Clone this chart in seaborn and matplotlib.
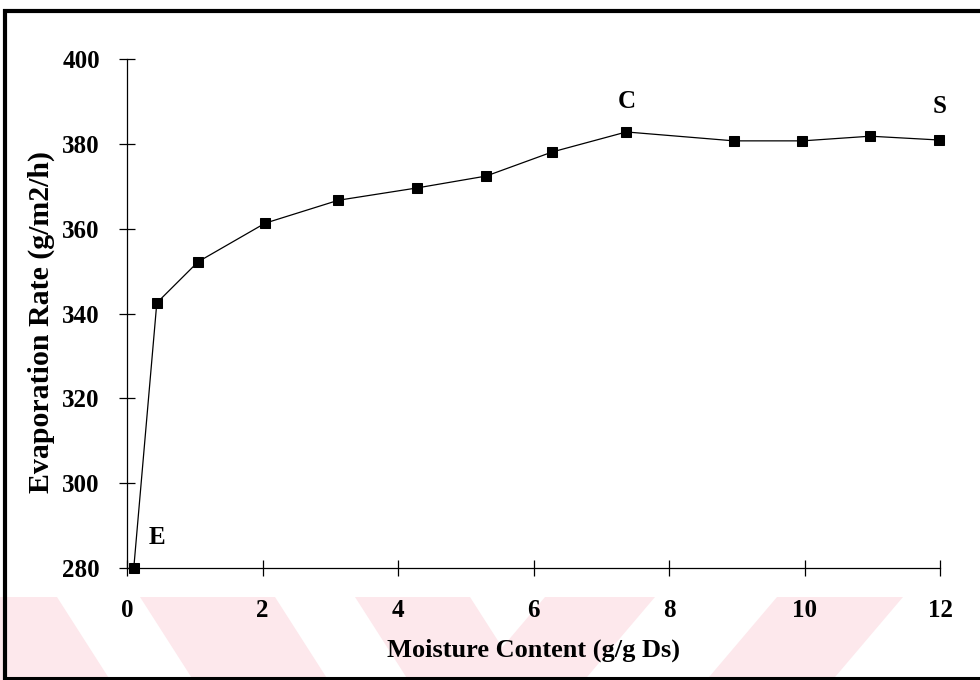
import matplotlib
matplotlib.use("Agg")
import matplotlib.pyplot as plt
import seaborn as sns
import pandas as pd
from matplotlib.patches import Polygon
from matplotlib.lines import Line2D

# Drying curve: evaporation rate versus moisture content
moisture = [0.10, 0.44, 1.05, 2.04, 3.12, 4.28, 5.30, 6.28, 7.37, 8.96, 9.97, 10.97, 11.99]
evaporation = [280.0, 342.5, 352.2, 361.3, 366.7, 369.6, 372.4, 378.1, 382.8, 380.7, 380.7, 381.8, 380.9]
x_ticks = [0, 2, 4, 6, 8, 10, 12]
y_ticks = [280, 300, 320, 340, 360, 380, 400]
point_names = ["E", "C", "S"]
point_index = [0, 8, 12]

sns.set_style("ticks")
plt.rcParams["font.family"] = ["Liberation Serif", "DejaVu Serif"]
plt.rcParams["font.weight"] = "bold"
plt.rcParams["text.color"] = "black"
plt.rcParams["axes.labelcolor"] = "black"

W, H = 980, 680
fig = plt.figure(figsize=(W / 100, H / 100), dpi=100)
fig.patch.set_facecolor("white")


def fx(px):
    return px / W


def fy(py):
    return 1 - py / H


# faint pink chevron band along the bottom edge
band_top, band_bot = 597, 683
pink = "#fde8ec"
left_stripes = [(-90, 57), (140, 275), (355, 470)]
right_stripes = [(545, 655), (777, 903)]
for stripes, d in ((left_stripes, 55), (right_stripes, -73)):
    for a, b in stripes:
        pts = [(a, band_top), (b, band_top), (b + d, band_bot), (a + d, band_bot)]
        fig.patches.append(Polygon([(fx(x), fy(y)) for x, y in pts], closed=True,
                                   transform=fig.transFigure, facecolor=pink,
                                   edgecolor="none", zorder=-5))

# heavy outer frame
frame_kw = dict(transform=fig.transFigure, color="black", solid_capstyle="butt", zorder=10)
fig.lines.append(Line2D([fx(5), fx(5)], [fy(9), fy(680)], linewidth=3.0, **frame_kw))
fig.lines.append(Line2D([fx(3), fx(980)], [fy(11), fy(11)], linewidth=3.0, **frame_kw))
fig.lines.append(Line2D([fx(3), fx(980)], [fy(678), fy(678)], linewidth=2.2, **frame_kw))

ax = fig.add_axes([fx(127), fy(568), (940 - 127) / W, (568 - 59) / H])
ax.set_facecolor("none")
ax.set_zorder(3)

df = pd.DataFrame({"moisture": moisture, "evaporation": evaporation})
sns.lineplot(data=df, x="moisture", y="evaporation", ax=ax, color="black",
             linewidth=0.9, marker="s", markersize=7.5, markeredgecolor="black",
             markerfacecolor="black", sort=False, clip_on=False)

ax.set_xlim(0, 12)
ax.set_ylim(280, 400)
ax.set_xticks(x_ticks)
ax.set_yticks(y_ticks)
ax.set_xticklabels([str(t) for t in x_ticks])
ax.set_yticklabels([str(t) for t in y_ticks])
ax.tick_params(axis="both", direction="inout", length=11, width=0.9,
               colors="black", labelsize=18)
ax.tick_params(axis="x", pad=17)
ax.tick_params(axis="y", pad=14)
for lab in ax.get_xticklabels() + ax.get_yticklabels():
    lab.set_fontweight("bold")

for side in ("top", "right"):
    ax.spines[side].set_visible(False)
for side in ("left", "bottom"):
    ax.spines[side].set_linewidth(0.9)
    ax.spines[side].set_color("black")

ax.set_xlabel("Moisture Content (g/g Ds)", fontsize=19, fontweight="bold", color="black")
ax.set_ylabel("Evaporation Rate (g/m2/h)", fontsize=21.5, fontweight="bold", color="black")
ax.xaxis.set_label_coords(0.5, -0.138)
ax.yaxis.set_label_coords(-0.089, 0.483)

offsets = {"E": (17, 22), "C": (0, 22), "S": (0, 24)}
for name, i in zip(point_names, point_index):
    ax.annotate(name, xy=(moisture[i], evaporation[i]), xytext=offsets[name],
                textcoords="offset points", ha="center", va="center",
                fontsize=18, fontweight="bold", color="black",
                annotation_clip=False)

fig.savefig("out.png", dpi=100, facecolor="white")
